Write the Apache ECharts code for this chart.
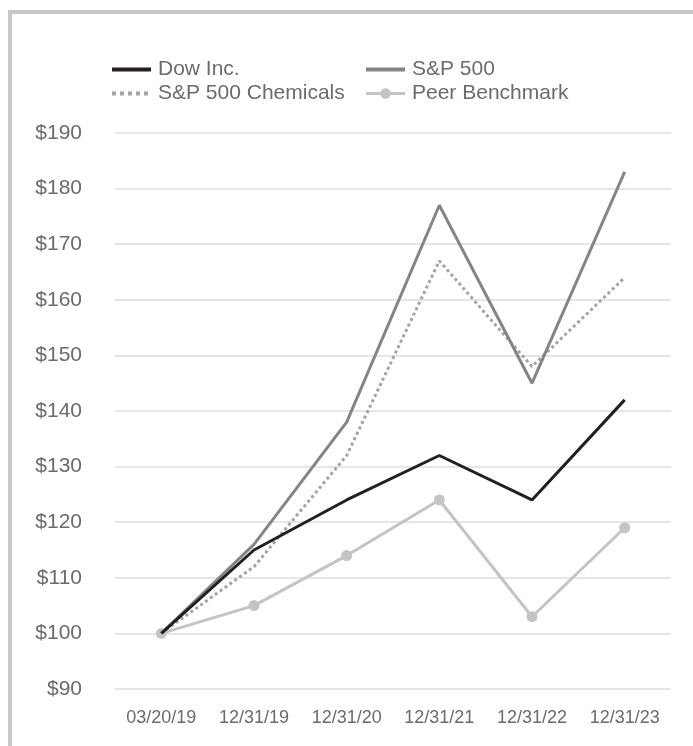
<!DOCTYPE html>
<html>
<head>
<meta charset="utf-8">
<script src="https://cdn.jsdelivr.net/npm/echarts@6/dist/echarts.min.js"></script>
<style>html,body{margin:0;padding:0;background:#fff;}#c{width:693px;height:746px;}</style>
</head>
<body>
<div id="c"></div>
<script>
var categories = ['03/20/19', '12/31/19', '12/31/20', '12/31/21', '12/31/22', '12/31/23'];
var dowInc = [100, 115, 124, 132, 124, 142];
var sp500 = [100, 116, 138, 177, 145, 183];
var spChemicals = [100, 112, 132, 167, 148, 164];
var peerBenchmark = [100, 105, 114, 124, 103, 119];

var chart = echarts.init(document.getElementById('c'));
var font = 'Liberation Sans, Arial, sans-serif';
var hideSym = { color: 'rgba(0,0,0,0)', borderWidth: 0 };
var legendText = { fontSize: 21, lineHeight: 21, color: '#6b6b6b', fontFamily: font, padding: [0, 0, 0, 2] };
chart.setOption({
  animation: false,
  backgroundColor: '#fff',
  textStyle: { fontFamily: font },
  graphic: [{
    type: 'rect',
    shape: { x: 10, y: 12, width: 900, height: 900 },
    style: { fill: 'none', stroke: '#c8c8c8', lineWidth: 4 },
    silent: true
  }],
  legend: [{
    orient: 'vertical', left: 105, top: 54, itemGap: 3,
    itemWidth: 39, itemHeight: 13,
    textStyle: legendText,
    data: [
      { name: 'Dow Inc.', itemStyle: hideSym, lineStyle: { width: 4 } },
      { name: 'S&P 500 Chemicals', itemStyle: hideSym, lineStyle: { width: 4, type: [4, 4] } }
    ]
  }, {
    orient: 'vertical', left: 359, top: 54, itemGap: 3,
    itemWidth: 39, itemHeight: 13,
    textStyle: legendText,
    data: [
      { name: 'S&P 500', itemStyle: hideSym, lineStyle: { width: 4 } },
      { name: 'Peer Benchmark', lineStyle: { width: 3 } }
    ]
  }],
  grid: { left: 115, right: 22, top: 133, bottom: 57, containLabel: false },
  xAxis: {
    type: 'category', data: categories, boundaryGap: true,
    axisLine: { show: false }, axisTick: { show: false },
    axisLabel: { fontSize: 18, color: '#6b6b6b', margin: 20, fontFamily: font }
  },
  yAxis: {
    type: 'value', min: 90, max: 190, interval: 10,
    axisLine: { show: false }, axisTick: { show: false },
    axisLabel: { fontSize: 21, color: '#6b6b6b', margin: 33, formatter: '${value}', fontFamily: font },
    splitLine: { lineStyle: { color: '#e6e6e6', width: 2 } }
  },
  series: [{
    name: 'Dow Inc.', type: 'line', data: dowInc, symbol: 'none',
    lineStyle: { color: '#231f20', width: 3 }, itemStyle: { color: '#231f20' }, z: 5
  }, {
    name: 'S&P 500', type: 'line', data: sp500, symbol: 'none',
    lineStyle: { color: '#858585', width: 3 }, itemStyle: { color: '#858585' }, z: 4
  }, {
    name: 'S&P 500 Chemicals', type: 'line', data: spChemicals, symbol: 'none',
    lineStyle: { color: '#a3a3a3', width: 3, type: [3, 3] }, itemStyle: { color: '#a3a3a3' }, z: 3
  }, {
    name: 'Peer Benchmark', type: 'line', data: peerBenchmark, symbol: 'circle', symbolSize: 11,
    lineStyle: { color: '#c4c4c4', width: 3 }, itemStyle: { color: '#c4c4c4' }, z: 2
  }]
});
</script>
</body>
</html>
